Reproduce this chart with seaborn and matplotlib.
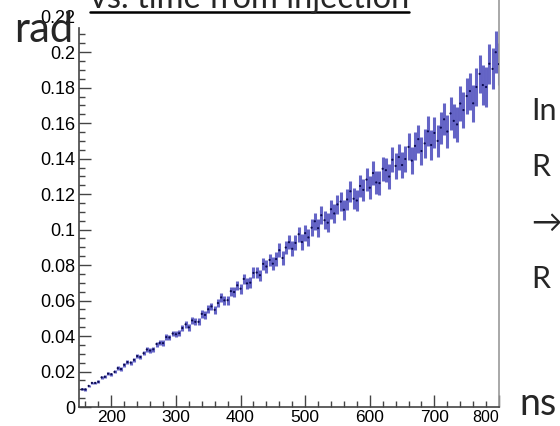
import numpy as np
import pandas as pd
import matplotlib
matplotlib.use("Agg")
import matplotlib.pyplot as plt
from matplotlib.lines import Line2D
from matplotlib.ticker import FixedLocator, FuncFormatter
import seaborn as sns

# ---------------- data ----------------
time_ns = list(range(155, 805, 5))

phase_rad = [
    0.0100, 0.0099, 0.0119, 0.0136, 0.0136, 0.0142, 0.0167, 0.0170, 0.0188, 0.0185,
    0.0198, 0.0219, 0.0214, 0.0238, 0.0253, 0.0250, 0.0266, 0.0287, 0.0282, 0.0303,
    0.0324, 0.0318, 0.0325, 0.0355, 0.0361, 0.0360, 0.0394, 0.0392, 0.0414, 0.0410,
    0.0416, 0.0445, 0.0466, 0.0449, 0.0488, 0.0480, 0.0480, 0.0525, 0.0519, 0.0551,
    0.0567, 0.0548, 0.0586, 0.0618, 0.0601, 0.0602, 0.0653, 0.0648, 0.0686, 0.0667,
    0.0722, 0.0697, 0.0701, 0.0756, 0.0758, 0.0743, 0.0807, 0.0792, 0.0829, 0.0808,
    0.0834, 0.0884, 0.0840, 0.0899, 0.0929, 0.0892, 0.0925, 0.0974, 0.0930, 0.0980,
    0.0956, 0.1011, 0.1047, 0.1008, 0.1081, 0.1053, 0.1039, 0.1115, 0.1091, 0.1142,
    0.1158, 0.1112, 0.1170, 0.1216, 0.1174, 0.1164, 0.1246, 0.1224, 0.1282, 0.1236,
    0.1319, 0.1266, 0.1262, 0.1343, 0.1335, 0.1299, 0.1394, 0.1359, 0.1409, 0.1364,
    0.1398, 0.1466, 0.1389, 0.1472, 0.1510, 0.1443, 0.1486, 0.1554, 0.1477, 0.1545,
    0.1500, 0.1575, 0.1622, 0.1553, 0.1655, 0.1613, 0.1593, 0.1711, 0.1674, 0.1753,
    0.1781, 0.1712, 0.1804, 0.1878, 0.1815, 0.1804, 0.1935, 0.1906, 0.2000, 0.1933,
]

phase_err = [
    0.0006, 0.0006, 0.0007, 0.0007, 0.0007, 0.0008, 0.0008, 0.0008, 0.0009, 0.0009,
    0.0009, 0.0010, 0.0010, 0.0010, 0.0011, 0.0011, 0.0011, 0.0012, 0.0012, 0.0012,
    0.0013, 0.0013, 0.0014, 0.0014, 0.0014, 0.0015, 0.0015, 0.0016, 0.0016, 0.0017,
    0.0017, 0.0018, 0.0018, 0.0019, 0.0019, 0.0020, 0.0020, 0.0021, 0.0021, 0.0022,
    0.0022, 0.0023, 0.0023, 0.0024, 0.0025, 0.0025, 0.0026, 0.0027, 0.0027, 0.0028,
    0.0029, 0.0029, 0.0030, 0.0031, 0.0032, 0.0032, 0.0033, 0.0034, 0.0035, 0.0036,
    0.0037, 0.0038, 0.0038, 0.0039, 0.0040, 0.0041, 0.0042, 0.0043, 0.0044, 0.0045,
    0.0046, 0.0047, 0.0048, 0.0049, 0.0050, 0.0051, 0.0052, 0.0053, 0.0054, 0.0054,
    0.0055, 0.0056, 0.0057, 0.0058, 0.0059, 0.0060, 0.0061, 0.0062, 0.0063, 0.0064,
    0.0065, 0.0066, 0.0067, 0.0068, 0.0069, 0.0070, 0.0071, 0.0072, 0.0073, 0.0074,
    0.0075, 0.0076, 0.0077, 0.0079, 0.0080, 0.0081, 0.0083, 0.0084, 0.0085, 0.0087,
    0.0088, 0.0090, 0.0091, 0.0093, 0.0094, 0.0096, 0.0097, 0.0099, 0.0100, 0.0102,
    0.0104, 0.0105, 0.0107, 0.0109, 0.0111, 0.0113, 0.0114, 0.0116, 0.0118, 0.0120,
]

x_major_ticks = [200, 300, 400, 500, 600, 700, 800]
y_major_ticks = [0, 0.02, 0.04, 0.06, 0.08, 0.10, 0.12, 0.14, 0.16, 0.18, 0.20, 0.22]

title_text = "vs. time from injection"
y_unit = "rad"
x_unit = "ns"
side_lines = ["In", "R", "\u2192", "R"]

df = pd.DataFrame({"t": time_ns, "phase": phase_rad, "err": phase_err})

# ---------------- figure ----------------
sns.set_style("ticks")
plt.rcParams["font.family"] = ["Liberation Sans", "DejaVu Sans"]

W, H = 560, 426
fig = plt.figure(figsize=(W / 100, H / 100), dpi=100)
ax = fig.add_axes([79 / W, 1 - 407 / H, 420 / W, 408 / H])

ax.errorbar(df["t"], df["phase"], yerr=df["err"], fmt="none",
            ecolor="#2a2ab0", elinewidth=2.2, alpha=0.72, zorder=2)
sns.scatterplot(data=df, x="t", y="phase", ax=ax, s=2.5, color="#0a0a50",
                edgecolor="none", zorder=3, legend=False)

ax.set_xlim(150, 800)
ax.set_ylim(0, 0.23)
ax.set_xlabel("")
ax.set_ylabel("")

ax.xaxis.set_major_locator(FixedLocator(x_major_ticks))
ax.xaxis.set_minor_locator(FixedLocator([v for v in range(160, 800, 20) if v % 100 != 0]))
ax.yaxis.set_major_locator(FixedLocator(y_major_ticks))
ax.yaxis.set_minor_locator(FixedLocator([round(0.005 * k, 3) for k in range(1, 43) if k % 4 != 0]))
ax.yaxis.set_major_formatter(FuncFormatter(lambda v, p: f"{v:g}"))

ax.tick_params(axis="both", which="major", direction="in", length=8.5, width=1.0,
               color="#444444", labelcolor="black")
ax.tick_params(axis="y", which="major", labelsize=13, pad=2.5)
ax.tick_params(axis="x", which="major", labelsize=12.5, pad=2.0)
ax.tick_params(axis="both", which="minor", direction="in", length=4.3, width=1.0,
               color="#444444")

for s in ["left", "bottom"]:
    ax.spines[s].set_color("#444444")
    ax.spines[s].set_linewidth(1.2)
ax.spines["left"].set_bounds(0, 0.2135)
ax.spines["right"].set_visible(True)
ax.spines["right"].set_color("#999999")
ax.spines["right"].set_linewidth(1.2)
ax.spines["top"].set_visible(False)

fig.canvas.draw()
ax.yaxis.get_major_ticks()[-1].tick1line.set_visible(False)
for val, tk in zip(ax.yaxis.get_minorticklocs(), ax.yaxis.get_minor_ticks()):
    if val > 0.2135:
        tk.tick1line.set_visible(False)

xl = ax.get_xticklabels()
xl[-1].set_horizontalalignment("right")
xl[-1].set_fontsize(11.5)

# ---------------- slide texts ----------------
title = fig.text(90 / W, 1 - 8 / H, title_text, fontsize=23.5,
                 family=["Lato", "DejaVu Sans"], va="baseline", ha="left")
fig.text(14 / W, 1 - 42 / H, y_unit, fontsize=30, family=["Lato", "DejaVu Sans"],
         va="baseline", ha="left")
fig.text(519 / W, 1 - 415 / H, x_unit, fontsize=27, family=["Lato", "DejaVu Sans"],
         va="baseline", ha="left")
for i, s in enumerate(side_lines):
    fig.text(531 / W, 1 - (120 + 56 * i) / H, s, fontsize=22,
             family=["Lato", "DejaVu Sans"], va="baseline", ha="left")

fig.canvas.draw()
bb = title.get_window_extent()
uy = 1 - 11.5 / H
fig.add_artist(Line2D([bb.x0 / W, bb.x1 / W], [uy, uy], transform=fig.transFigure,
                      color="black", lw=1.8))

fig.savefig("out.png", dpi=100)
